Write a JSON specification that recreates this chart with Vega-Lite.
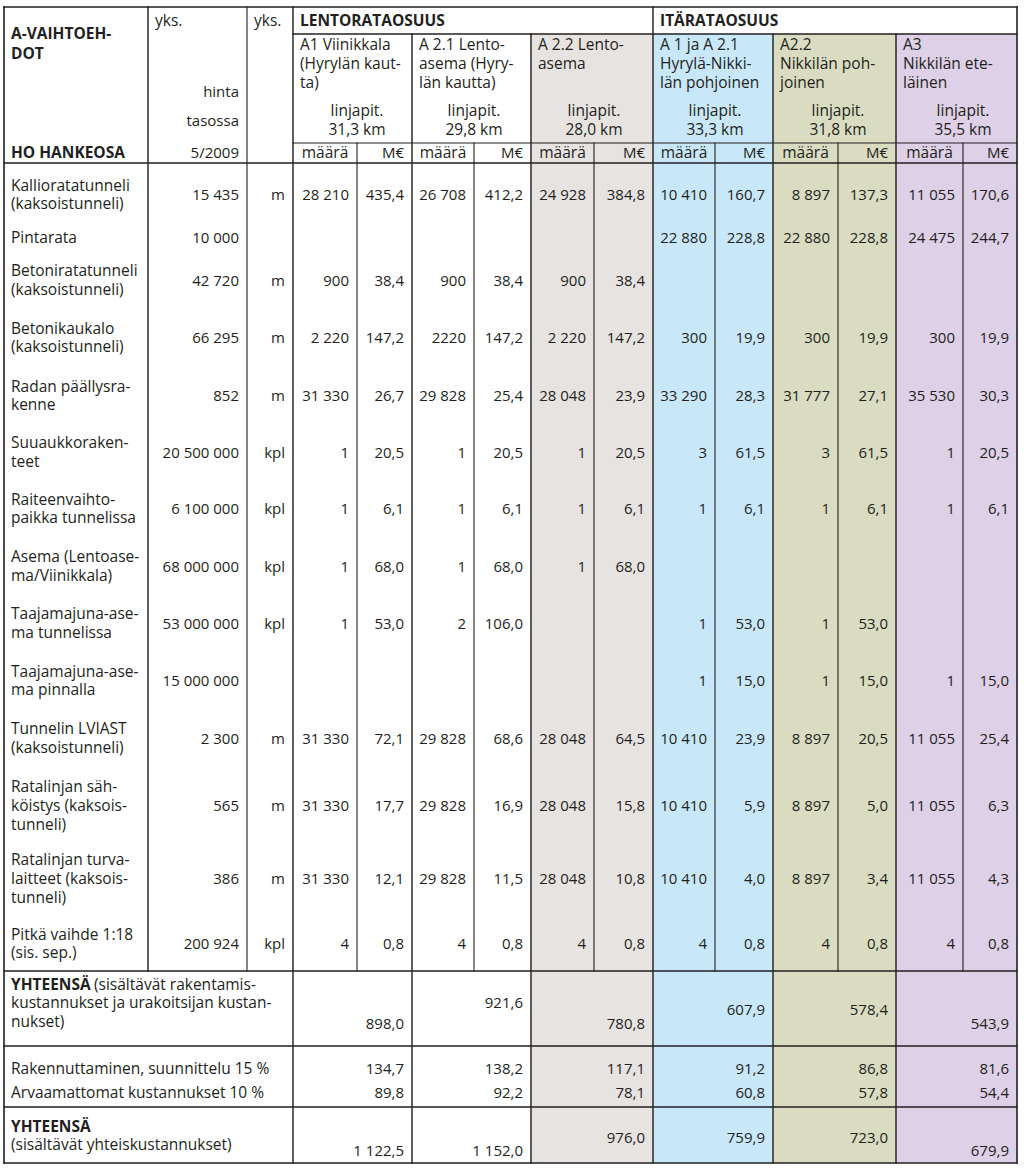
{
  "$schema": "https://vega.github.io/schema/vega-lite/v6.json",
  "width": 1024,
  "height": 1168,
  "padding": 0,
  "autosize": "none",
  "background": "#ffffff",
  "config": {"view": {"stroke": null}, "text": {"font": "Open Sans", "fontSize": 15.5, "color": "#231f20", "lineBreak": "\n"}},
  "datasets": {
    "fills": [
      {"alt": "A 2.2 Lentoasema", "c0": 7, "c1": 9, "r0": 2, "r1": 37},
      {"alt": "A 1 ja A 2.1", "c0": 9, "c1": 11, "r0": 2, "r1": 37},
      {"alt": "A2.2 Nikkilän pohjoinen", "c0": 11, "c1": 13, "r0": 2, "r1": 37},
      {"alt": "A3 Nikkilän eteläinen", "c0": 13, "c1": 15, "r0": 2, "r1": 37}
    ],
    "lines": [
      {"x0": 0, "x1": 15, "y0": 0, "y1": 0, "w": "border"},
      {"x0": 3, "x1": 15, "y0": 2, "y1": 2, "w": "mid"},
      {"x0": 3, "x1": 15, "y0": 7, "y1": 7, "w": "thin"},
      {"x0": 0, "x1": 15, "y0": 9, "y1": 9, "w": "thick"},
      {"x0": 0, "x1": 15, "y0": 24, "y1": 24, "w": "thick"},
      {"x0": 0, "x1": 15, "y0": 29, "y1": 29, "w": "thick"},
      {"x0": 0, "x1": 15, "y0": 32, "y1": 32, "w": "thick"},
      {"x0": 0, "x1": 15, "y0": 37, "y1": 37, "w": "border"},
      {"x0": 0, "x1": 0, "y0": 0, "y1": 37, "w": "border"},
      {"x0": 15, "x1": 15, "y0": 0, "y1": 37, "w": "border"},
      {"x0": 1, "x1": 1, "y0": 0, "y1": 24, "w": "thick"},
      {"x0": 2, "x1": 2, "y0": 0, "y1": 24, "w": "thin"},
      {"x0": 3, "x1": 3, "y0": 0, "y1": 37, "w": "thick"},
      {"x0": 9, "x1": 9, "y0": 0, "y1": 37, "w": "thick"},
      {"x0": 5, "x1": 5, "y0": 2, "y1": 37, "w": "thick"},
      {"x0": 7, "x1": 7, "y0": 2, "y1": 37, "w": "thick"},
      {"x0": 11, "x1": 11, "y0": 2, "y1": 37, "w": "thick"},
      {"x0": 13, "x1": 13, "y0": 2, "y1": 37, "w": "thick"},
      {"x0": 4, "x1": 4, "y0": 7, "y1": 24, "w": "thin"},
      {"x0": 6, "x1": 6, "y0": 7, "y1": 24, "w": "thin"},
      {"x0": 8, "x1": 8, "y0": 7, "y1": 24, "w": "thin"},
      {"x0": 10, "x1": 10, "y0": 7, "y1": 24, "w": "thin"},
      {"x0": 12, "x1": 12, "y0": 7, "y1": 24, "w": "thin"},
      {"x0": 14, "x1": 14, "y0": 7, "y1": 24, "w": "thin"}
    ],
    "cells": [
      {"r": 2, "c0": 0, "c1": 1, "k": "head", "t": "A-VAIHTOEH-\nDOT"},
      {"r": 8, "c0": 0, "c1": 1, "k": "head", "t": "HO HANKEOSA"},
      {"r": 1, "c0": 1, "c1": 2, "k": "note", "t": "yks."},
      {"r": 1, "c0": 2, "c1": 3, "k": "note", "t": "yks."},
      {"r": 4, "c0": 1, "c1": 2, "k": "v", "t": "hinta"},
      {"r": 6, "c0": 1, "c1": 2, "k": "v", "t": "tasossa"},
      {"r": 8, "c0": 1, "c1": 2, "k": "v", "t": "5/2009"},
      {"r": 1, "c0": 3, "c1": 9, "k": "head", "t": "LENTORATAOSUUS"},
      {"r": 1, "c0": 9, "c1": 15, "k": "head", "t": "ITÄRATAOSUUS"},
      {"r": 3, "c0": 3, "c1": 5, "k": "note", "t": "A1 Viinikkala\n(Hyrylän kaut-\nta)"},
      {"r": 3, "c0": 5, "c1": 7, "k": "note", "t": "A 2.1 Lento-\nasema (Hyry-\nlän kautta)"},
      {"r": 3, "c0": 7, "c1": 9, "k": "note", "t": "A 2.2 Lento-\nasema"},
      {"r": 3, "c0": 9, "c1": 11, "k": "note", "t": "A 1 ja A 2.1\nHyrylä-Nikki-\nlän pohjoinen"},
      {"r": 3, "c0": 11, "c1": 13, "k": "note", "t": "A2.2\nNikkilän poh-\njoinen"},
      {"r": 3, "c0": 13, "c1": 15, "k": "note", "t": "A3\nNikkilän ete-\nläinen"},
      {"r": 5, "c0": 3, "c1": 5, "k": "mid", "t": "linjapit.\n31,3 km"},
      {"r": 5, "c0": 5, "c1": 7, "k": "mid", "t": "linjapit.\n29,8 km"},
      {"r": 5, "c0": 7, "c1": 9, "k": "mid", "t": "linjapit.\n28,0 km"},
      {"r": 5, "c0": 9, "c1": 11, "k": "mid", "t": "linjapit.\n33,3 km"},
      {"r": 5, "c0": 11, "c1": 13, "k": "mid", "t": "linjapit.\n31,8 km"},
      {"r": 5, "c0": 13, "c1": 15, "k": "mid", "t": "linjapit.\n35,5 km"},
      {"r": 8, "c0": 3, "c1": 4, "k": "mid", "t": "määrä"},
      {"r": 8, "c0": 4, "c1": 5, "k": "v", "t": "M€"},
      {"r": 8, "c0": 5, "c1": 6, "k": "mid", "t": "määrä"},
      {"r": 8, "c0": 6, "c1": 7, "k": "v", "t": "M€"},
      {"r": 8, "c0": 7, "c1": 8, "k": "mid", "t": "määrä"},
      {"r": 8, "c0": 8, "c1": 9, "k": "v", "t": "M€"},
      {"r": 8, "c0": 9, "c1": 10, "k": "mid", "t": "määrä"},
      {"r": 8, "c0": 10, "c1": 11, "k": "v", "t": "M€"},
      {"r": 8, "c0": 11, "c1": 12, "k": "mid", "t": "määrä"},
      {"r": 8, "c0": 12, "c1": 13, "k": "v", "t": "M€"},
      {"r": 8, "c0": 13, "c1": 14, "k": "mid", "t": "määrä"},
      {"r": 8, "c0": 14, "c1": 15, "k": "v", "t": "M€"},

      {"r": 10, "c0": 0, "c1": 1, "k": "item", "t": "Kallioratatunneli\n(kaksoistunneli)"},
      {"r": 10, "c0": 1, "c1": 2, "k": "v", "t": "15 435"},
      {"r": 10, "c0": 2, "c1": 3, "k": "v", "t": "m"},
      {"r": 10, "c0": 3, "c1": 4, "k": "v", "t": "28 210"},
      {"r": 10, "c0": 4, "c1": 5, "k": "v", "t": "435,4"},
      {"r": 10, "c0": 5, "c1": 6, "k": "v", "t": "26 708"},
      {"r": 10, "c0": 6, "c1": 7, "k": "v", "t": "412,2"},
      {"r": 10, "c0": 7, "c1": 8, "k": "v", "t": "24 928"},
      {"r": 10, "c0": 8, "c1": 9, "k": "v", "t": "384,8"},
      {"r": 10, "c0": 9, "c1": 10, "k": "v", "t": "10 410"},
      {"r": 10, "c0": 10, "c1": 11, "k": "v", "t": "160,7"},
      {"r": 10, "c0": 11, "c1": 12, "k": "v", "t": "8 897"},
      {"r": 10, "c0": 12, "c1": 13, "k": "v", "t": "137,3"},
      {"r": 10, "c0": 13, "c1": 14, "k": "v", "t": "11 055"},
      {"r": 10, "c0": 14, "c1": 15, "k": "v", "t": "170,6"},

      {"r": 11, "c0": 0, "c1": 1, "k": "item", "t": "Pintarata"},
      {"r": 11, "c0": 1, "c1": 2, "k": "v", "t": "10 000"},
      {"r": 11, "c0": 9, "c1": 10, "k": "v", "t": "22 880"},
      {"r": 11, "c0": 10, "c1": 11, "k": "v", "t": "228,8"},
      {"r": 11, "c0": 11, "c1": 12, "k": "v", "t": "22 880"},
      {"r": 11, "c0": 12, "c1": 13, "k": "v", "t": "228,8"},
      {"r": 11, "c0": 13, "c1": 14, "k": "v", "t": "24 475"},
      {"r": 11, "c0": 14, "c1": 15, "k": "v", "t": "244,7"},

      {"r": 12, "c0": 0, "c1": 1, "k": "item", "t": "Betoniratatunneli\n(kaksoistunneli)"},
      {"r": 12, "c0": 1, "c1": 2, "k": "v", "t": "42 720"},
      {"r": 12, "c0": 2, "c1": 3, "k": "v", "t": "m"},
      {"r": 12, "c0": 3, "c1": 4, "k": "v", "t": "900"},
      {"r": 12, "c0": 4, "c1": 5, "k": "v", "t": "38,4"},
      {"r": 12, "c0": 5, "c1": 6, "k": "v", "t": "900"},
      {"r": 12, "c0": 6, "c1": 7, "k": "v", "t": "38,4"},
      {"r": 12, "c0": 7, "c1": 8, "k": "v", "t": "900"},
      {"r": 12, "c0": 8, "c1": 9, "k": "v", "t": "38,4"},

      {"r": 13, "c0": 0, "c1": 1, "k": "item", "t": "Betonikaukalo\n(kaksoistunneli)"},
      {"r": 13, "c0": 1, "c1": 2, "k": "v", "t": "66 295"},
      {"r": 13, "c0": 2, "c1": 3, "k": "v", "t": "m"},
      {"r": 13, "c0": 3, "c1": 4, "k": "v", "t": "2 220"},
      {"r": 13, "c0": 4, "c1": 5, "k": "v", "t": "147,2"},
      {"r": 13, "c0": 5, "c1": 6, "k": "v", "t": "2220"},
      {"r": 13, "c0": 6, "c1": 7, "k": "v", "t": "147,2"},
      {"r": 13, "c0": 7, "c1": 8, "k": "v", "t": "2 220"},
      {"r": 13, "c0": 8, "c1": 9, "k": "v", "t": "147,2"},
      {"r": 13, "c0": 9, "c1": 10, "k": "v", "t": "300"},
      {"r": 13, "c0": 10, "c1": 11, "k": "v", "t": "19,9"},
      {"r": 13, "c0": 11, "c1": 12, "k": "v", "t": "300"},
      {"r": 13, "c0": 12, "c1": 13, "k": "v", "t": "19,9"},
      {"r": 13, "c0": 13, "c1": 14, "k": "v", "t": "300"},
      {"r": 13, "c0": 14, "c1": 15, "k": "v", "t": "19,9"},

      {"r": 14, "c0": 0, "c1": 1, "k": "item", "t": "Radan päällysra-\nkenne"},
      {"r": 14, "c0": 1, "c1": 2, "k": "v", "t": "852"},
      {"r": 14, "c0": 2, "c1": 3, "k": "v", "t": "m"},
      {"r": 14, "c0": 3, "c1": 4, "k": "v", "t": "31 330"},
      {"r": 14, "c0": 4, "c1": 5, "k": "v", "t": "26,7"},
      {"r": 14, "c0": 5, "c1": 6, "k": "v", "t": "29 828"},
      {"r": 14, "c0": 6, "c1": 7, "k": "v", "t": "25,4"},
      {"r": 14, "c0": 7, "c1": 8, "k": "v", "t": "28 048"},
      {"r": 14, "c0": 8, "c1": 9, "k": "v", "t": "23,9"},
      {"r": 14, "c0": 9, "c1": 10, "k": "v", "t": "33 290"},
      {"r": 14, "c0": 10, "c1": 11, "k": "v", "t": "28,3"},
      {"r": 14, "c0": 11, "c1": 12, "k": "v", "t": "31 777"},
      {"r": 14, "c0": 12, "c1": 13, "k": "v", "t": "27,1"},
      {"r": 14, "c0": 13, "c1": 14, "k": "v", "t": "35 530"},
      {"r": 14, "c0": 14, "c1": 15, "k": "v", "t": "30,3"},

      {"r": 15, "c0": 0, "c1": 1, "k": "item", "t": "Suuaukkoraken-\nteet"},
      {"r": 15, "c0": 1, "c1": 2, "k": "v", "t": "20 500 000"},
      {"r": 15, "c0": 2, "c1": 3, "k": "v", "t": "kpl"},
      {"r": 15, "c0": 3, "c1": 4, "k": "v", "t": "1"},
      {"r": 15, "c0": 4, "c1": 5, "k": "v", "t": "20,5"},
      {"r": 15, "c0": 5, "c1": 6, "k": "v", "t": "1"},
      {"r": 15, "c0": 6, "c1": 7, "k": "v", "t": "20,5"},
      {"r": 15, "c0": 7, "c1": 8, "k": "v", "t": "1"},
      {"r": 15, "c0": 8, "c1": 9, "k": "v", "t": "20,5"},
      {"r": 15, "c0": 9, "c1": 10, "k": "v", "t": "3"},
      {"r": 15, "c0": 10, "c1": 11, "k": "v", "t": "61,5"},
      {"r": 15, "c0": 11, "c1": 12, "k": "v", "t": "3"},
      {"r": 15, "c0": 12, "c1": 13, "k": "v", "t": "61,5"},
      {"r": 15, "c0": 13, "c1": 14, "k": "v", "t": "1"},
      {"r": 15, "c0": 14, "c1": 15, "k": "v", "t": "20,5"},

      {"r": 16, "c0": 0, "c1": 1, "k": "item", "t": "Raiteenvaihto-\npaikka tunnelissa"},
      {"r": 16, "c0": 1, "c1": 2, "k": "v", "t": "6 100 000"},
      {"r": 16, "c0": 2, "c1": 3, "k": "v", "t": "kpl"},
      {"r": 16, "c0": 3, "c1": 4, "k": "v", "t": "1"},
      {"r": 16, "c0": 4, "c1": 5, "k": "v", "t": "6,1"},
      {"r": 16, "c0": 5, "c1": 6, "k": "v", "t": "1"},
      {"r": 16, "c0": 6, "c1": 7, "k": "v", "t": "6,1"},
      {"r": 16, "c0": 7, "c1": 8, "k": "v", "t": "1"},
      {"r": 16, "c0": 8, "c1": 9, "k": "v", "t": "6,1"},
      {"r": 16, "c0": 9, "c1": 10, "k": "v", "t": "1"},
      {"r": 16, "c0": 10, "c1": 11, "k": "v", "t": "6,1"},
      {"r": 16, "c0": 11, "c1": 12, "k": "v", "t": "1"},
      {"r": 16, "c0": 12, "c1": 13, "k": "v", "t": "6,1"},
      {"r": 16, "c0": 13, "c1": 14, "k": "v", "t": "1"},
      {"r": 16, "c0": 14, "c1": 15, "k": "v", "t": "6,1"},

      {"r": 17, "c0": 0, "c1": 1, "k": "item", "t": "Asema (Lentoase-\nma/Viinikkala)"},
      {"r": 17, "c0": 1, "c1": 2, "k": "v", "t": "68 000 000"},
      {"r": 17, "c0": 2, "c1": 3, "k": "v", "t": "kpl"},
      {"r": 17, "c0": 3, "c1": 4, "k": "v", "t": "1"},
      {"r": 17, "c0": 4, "c1": 5, "k": "v", "t": "68,0"},
      {"r": 17, "c0": 5, "c1": 6, "k": "v", "t": "1"},
      {"r": 17, "c0": 6, "c1": 7, "k": "v", "t": "68,0"},
      {"r": 17, "c0": 7, "c1": 8, "k": "v", "t": "1"},
      {"r": 17, "c0": 8, "c1": 9, "k": "v", "t": "68,0"},

      {"r": 18, "c0": 0, "c1": 1, "k": "item", "t": "Taajamajuna-ase-\nma tunnelissa"},
      {"r": 18, "c0": 1, "c1": 2, "k": "v", "t": "53 000 000"},
      {"r": 18, "c0": 2, "c1": 3, "k": "v", "t": "kpl"},
      {"r": 18, "c0": 3, "c1": 4, "k": "v", "t": "1"},
      {"r": 18, "c0": 4, "c1": 5, "k": "v", "t": "53,0"},
      {"r": 18, "c0": 5, "c1": 6, "k": "v", "t": "2"},
      {"r": 18, "c0": 6, "c1": 7, "k": "v", "t": "106,0"},
      {"r": 18, "c0": 9, "c1": 10, "k": "v", "t": "1"},
      {"r": 18, "c0": 10, "c1": 11, "k": "v", "t": "53,0"},
      {"r": 18, "c0": 11, "c1": 12, "k": "v", "t": "1"},
      {"r": 18, "c0": 12, "c1": 13, "k": "v", "t": "53,0"},

      {"r": 19, "c0": 0, "c1": 1, "k": "item", "t": "Taajamajuna-ase-\nma pinnalla"},
      {"r": 19, "c0": 1, "c1": 2, "k": "v", "t": "15 000 000"},
      {"r": 19, "c0": 9, "c1": 10, "k": "v", "t": "1"},
      {"r": 19, "c0": 10, "c1": 11, "k": "v", "t": "15,0"},
      {"r": 19, "c0": 11, "c1": 12, "k": "v", "t": "1"},
      {"r": 19, "c0": 12, "c1": 13, "k": "v", "t": "15,0"},
      {"r": 19, "c0": 13, "c1": 14, "k": "v", "t": "1"},
      {"r": 19, "c0": 14, "c1": 15, "k": "v", "t": "15,0"},

      {"r": 20, "c0": 0, "c1": 1, "k": "item", "t": "Tunnelin LVIAST\n(kaksoistunneli)"},
      {"r": 20, "c0": 1, "c1": 2, "k": "v", "t": "2 300"},
      {"r": 20, "c0": 2, "c1": 3, "k": "v", "t": "m"},
      {"r": 20, "c0": 3, "c1": 4, "k": "v", "t": "31 330"},
      {"r": 20, "c0": 4, "c1": 5, "k": "v", "t": "72,1"},
      {"r": 20, "c0": 5, "c1": 6, "k": "v", "t": "29 828"},
      {"r": 20, "c0": 6, "c1": 7, "k": "v", "t": "68,6"},
      {"r": 20, "c0": 7, "c1": 8, "k": "v", "t": "28 048"},
      {"r": 20, "c0": 8, "c1": 9, "k": "v", "t": "64,5"},
      {"r": 20, "c0": 9, "c1": 10, "k": "v", "t": "10 410"},
      {"r": 20, "c0": 10, "c1": 11, "k": "v", "t": "23,9"},
      {"r": 20, "c0": 11, "c1": 12, "k": "v", "t": "8 897"},
      {"r": 20, "c0": 12, "c1": 13, "k": "v", "t": "20,5"},
      {"r": 20, "c0": 13, "c1": 14, "k": "v", "t": "11 055"},
      {"r": 20, "c0": 14, "c1": 15, "k": "v", "t": "25,4"},

      {"r": 21, "c0": 0, "c1": 1, "k": "item", "t": "Ratalinjan säh-\nköistys (kaksois-\ntunneli)"},
      {"r": 21, "c0": 1, "c1": 2, "k": "v", "t": "565"},
      {"r": 21, "c0": 2, "c1": 3, "k": "v", "t": "m"},
      {"r": 21, "c0": 3, "c1": 4, "k": "v", "t": "31 330"},
      {"r": 21, "c0": 4, "c1": 5, "k": "v", "t": "17,7"},
      {"r": 21, "c0": 5, "c1": 6, "k": "v", "t": "29 828"},
      {"r": 21, "c0": 6, "c1": 7, "k": "v", "t": "16,9"},
      {"r": 21, "c0": 7, "c1": 8, "k": "v", "t": "28 048"},
      {"r": 21, "c0": 8, "c1": 9, "k": "v", "t": "15,8"},
      {"r": 21, "c0": 9, "c1": 10, "k": "v", "t": "10 410"},
      {"r": 21, "c0": 10, "c1": 11, "k": "v", "t": "5,9"},
      {"r": 21, "c0": 11, "c1": 12, "k": "v", "t": "8 897"},
      {"r": 21, "c0": 12, "c1": 13, "k": "v", "t": "5,0"},
      {"r": 21, "c0": 13, "c1": 14, "k": "v", "t": "11 055"},
      {"r": 21, "c0": 14, "c1": 15, "k": "v", "t": "6,3"},

      {"r": 22, "c0": 0, "c1": 1, "k": "item", "t": "Ratalinjan turva-\nlaitteet (kaksois-\ntunneli)"},
      {"r": 22, "c0": 1, "c1": 2, "k": "v", "t": "386"},
      {"r": 22, "c0": 2, "c1": 3, "k": "v", "t": "m"},
      {"r": 22, "c0": 3, "c1": 4, "k": "v", "t": "31 330"},
      {"r": 22, "c0": 4, "c1": 5, "k": "v", "t": "12,1"},
      {"r": 22, "c0": 5, "c1": 6, "k": "v", "t": "29 828"},
      {"r": 22, "c0": 6, "c1": 7, "k": "v", "t": "11,5"},
      {"r": 22, "c0": 7, "c1": 8, "k": "v", "t": "28 048"},
      {"r": 22, "c0": 8, "c1": 9, "k": "v", "t": "10,8"},
      {"r": 22, "c0": 9, "c1": 10, "k": "v", "t": "10 410"},
      {"r": 22, "c0": 10, "c1": 11, "k": "v", "t": "4,0"},
      {"r": 22, "c0": 11, "c1": 12, "k": "v", "t": "8 897"},
      {"r": 22, "c0": 12, "c1": 13, "k": "v", "t": "3,4"},
      {"r": 22, "c0": 13, "c1": 14, "k": "v", "t": "11 055"},
      {"r": 22, "c0": 14, "c1": 15, "k": "v", "t": "4,3"},

      {"r": 23, "c0": 0, "c1": 1, "k": "item", "t": "Pitkä vaihde 1:18\n(sis. sep.)"},
      {"r": 23, "c0": 1, "c1": 2, "k": "v", "t": "200 924"},
      {"r": 23, "c0": 2, "c1": 3, "k": "v", "t": "kpl"},
      {"r": 23, "c0": 3, "c1": 4, "k": "v", "t": "4"},
      {"r": 23, "c0": 4, "c1": 5, "k": "v", "t": "0,8"},
      {"r": 23, "c0": 5, "c1": 6, "k": "v", "t": "4"},
      {"r": 23, "c0": 6, "c1": 7, "k": "v", "t": "0,8"},
      {"r": 23, "c0": 7, "c1": 8, "k": "v", "t": "4"},
      {"r": 23, "c0": 8, "c1": 9, "k": "v", "t": "0,8"},
      {"r": 23, "c0": 9, "c1": 10, "k": "v", "t": "4"},
      {"r": 23, "c0": 10, "c1": 11, "k": "v", "t": "0,8"},
      {"r": 23, "c0": 11, "c1": 12, "k": "v", "t": "4"},
      {"r": 23, "c0": 12, "c1": 13, "k": "v", "t": "0,8"},
      {"r": 23, "c0": 13, "c1": 14, "k": "v", "t": "4"},
      {"r": 23, "c0": 14, "c1": 15, "k": "v", "t": "0,8"},

      {"r": 25, "c0": 0, "c1": 3, "k": "head", "t": "YHTEENSÄ"},
      {"r": 25, "c0": 0, "c1": 3, "k": "cont", "t": "(sisältävät rakentamis-"},
      {"r": 26, "c0": 0, "c1": 3, "k": "note", "t": "kustannukset ja urakoitsijan kustan-\nnukset)"},
      {"r": 28, "c0": 3, "c1": 5, "k": "v", "t": "898,0"},
      {"r": 26, "c0": 5, "c1": 7, "k": "v", "t": "921,6"},
      {"r": 28, "c0": 7, "c1": 9, "k": "v", "t": "780,8"},
      {"r": 27, "c0": 9, "c1": 11, "k": "v", "t": "607,9"},
      {"r": 27, "c0": 11, "c1": 13, "k": "v", "t": "578,4"},
      {"r": 28, "c0": 13, "c1": 15, "k": "v", "t": "543,9"},

      {"r": 30, "c0": 0, "c1": 3, "k": "note", "t": "Rakennuttaminen, suunnittelu 15 %"},
      {"r": 30, "c0": 3, "c1": 5, "k": "v", "t": "134,7"},
      {"r": 30, "c0": 5, "c1": 7, "k": "v", "t": "138,2"},
      {"r": 30, "c0": 7, "c1": 9, "k": "v", "t": "117,1"},
      {"r": 30, "c0": 9, "c1": 11, "k": "v", "t": "91,2"},
      {"r": 30, "c0": 11, "c1": 13, "k": "v", "t": "86,8"},
      {"r": 30, "c0": 13, "c1": 15, "k": "v", "t": "81,6"},
      {"r": 31, "c0": 0, "c1": 3, "k": "note", "t": "Arvaamattomat kustannukset 10 %"},
      {"r": 31, "c0": 3, "c1": 5, "k": "v", "t": "89,8"},
      {"r": 31, "c0": 5, "c1": 7, "k": "v", "t": "92,2"},
      {"r": 31, "c0": 7, "c1": 9, "k": "v", "t": "78,1"},
      {"r": 31, "c0": 9, "c1": 11, "k": "v", "t": "60,8"},
      {"r": 31, "c0": 11, "c1": 13, "k": "v", "t": "57,8"},
      {"r": 31, "c0": 13, "c1": 15, "k": "v", "t": "54,4"},

      {"r": 33, "c0": 0, "c1": 3, "k": "head", "t": "YHTEENSÄ"},
      {"r": 35, "c0": 0, "c1": 3, "k": "note", "t": "(sisältävät  yhteiskustannukset)"},
      {"r": 36, "c0": 3, "c1": 5, "k": "v", "t": "1 122,5"},
      {"r": 36, "c0": 5, "c1": 7, "k": "v", "t": "1 152,0"},
      {"r": 34, "c0": 7, "c1": 9, "k": "v", "t": "976,0"},
      {"r": 34, "c0": 9, "c1": 11, "k": "v", "t": "759,9"},
      {"r": 34, "c0": 11, "c1": 13, "k": "v", "t": "723,0"},
      {"r": 36, "c0": 13, "c1": 15, "k": "v", "t": "679,9"}
    ]
  },
  "layer": [
    {
      "data": {"name": "fills"},
      "mark": {"type": "rect"},
      "encoding": {
        "x": {"field": "c0", "type": "quantitative", "axis": null, "scale": {"domain": [0,1,2,3,4,5,6,7,8,9,10,11,12,13,14,15], "range": [4,148,247,293,357,412,474,531,594,653,715,773,838,896,963,1017], "nice": false, "zero": false}},
        "x2": {"field": "c1"},
        "y": {"field": "r0", "type": "quantitative", "axis": null, "scale": {"domain": [0,1,2,3,4,5,6,7,8,9,10,11,12,13,14,15,16,17,18,19,20,21,22,23,24,25,26,27,28,29,30,31,32,33,34,35,36,37], "range": [7,21,34,45,92,111,121,143,153,163,195,238,280.5,338,396,452.5,509,566.5,623.5,681,738.5,806,879,944,971,985,1003,1010,1024,1046,1069,1093,1107,1127,1137.5,1145,1151,1163], "nice": false, "zero": false}},
        "y2": {"field": "r1"},
        "color": {"field": "alt", "type": "nominal", "legend": null, "scale": {"domain": ["A 2.2 Lentoasema", "A 1 ja A 2.1", "A2.2 Nikkilän pohjoinen", "A3 Nikkilän eteläinen"], "range": ["#e7e3e1", "#c8e8f9", "#d9dcc1", "#ddd0e7"]}}
      }
    },
    {
      "data": {"name": "cells"},
      "transform": [{"filter": "datum.k === 'item'"}, {"calculate": "length(split(datum.t, '\\n'))", "as": "nl"}, {"filter": "datum.nl === 1"}],
      "mark": {"type": "text", "align": "left", "baseline": "middle", "dx": 7, "lineHeight": 18.7},
      "encoding": {
        "x": {"field": "c0", "type": "quantitative", "axis": null, "scale": {"domain": [0,1,2,3,4,5,6,7,8,9,10,11,12,13,14,15], "range": [4,148,247,293,357,412,474,531,594,653,715,773,838,896,963,1017], "nice": false, "zero": false}},
        "y": {"field": "r", "type": "quantitative", "axis": null, "scale": {"domain": [0,1,2,3,4,5,6,7,8,9,10,11,12,13,14,15,16,17,18,19,20,21,22,23,24,25,26,27,28,29,30,31,32,33,34,35,36,37], "range": [7,21,34,45,92,111,121,143,153,163,195,238,280.5,338,396,452.5,509,566.5,623.5,681,738.5,806,879,944,971,985,1003,1010,1024,1046,1069,1093,1107,1127,1137.5,1145,1151,1163], "nice": false, "zero": false}},
        "text": {"field": "t", "type": "nominal"}
      }
    },
    {
      "data": {"name": "cells"},
      "transform": [{"filter": "datum.k === 'item'"}, {"calculate": "length(split(datum.t, '\\n'))", "as": "nl"}, {"filter": "datum.nl === 2"}],
      "mark": {"type": "text", "align": "left", "baseline": "middle", "dx": 7, "dy": -9.35, "lineHeight": 18.7},
      "encoding": {
        "x": {"field": "c0", "type": "quantitative", "axis": null, "scale": {"domain": [0,1,2,3,4,5,6,7,8,9,10,11,12,13,14,15], "range": [4,148,247,293,357,412,474,531,594,653,715,773,838,896,963,1017], "nice": false, "zero": false}},
        "y": {"field": "r", "type": "quantitative", "axis": null, "scale": {"domain": [0,1,2,3,4,5,6,7,8,9,10,11,12,13,14,15,16,17,18,19,20,21,22,23,24,25,26,27,28,29,30,31,32,33,34,35,36,37], "range": [7,21,34,45,92,111,121,143,153,163,195,238,280.5,338,396,452.5,509,566.5,623.5,681,738.5,806,879,944,971,985,1003,1010,1024,1046,1069,1093,1107,1127,1137.5,1145,1151,1163], "nice": false, "zero": false}},
        "text": {"field": "t", "type": "nominal"}
      }
    },
    {
      "data": {"name": "cells"},
      "transform": [{"filter": "datum.k === 'item'"}, {"calculate": "length(split(datum.t, '\\n'))", "as": "nl"}, {"filter": "datum.nl === 3"}],
      "mark": {"type": "text", "align": "left", "baseline": "middle", "dx": 7, "dy": -18.7, "lineHeight": 18.7},
      "encoding": {
        "x": {"field": "c0", "type": "quantitative", "axis": null, "scale": {"domain": [0,1,2,3,4,5,6,7,8,9,10,11,12,13,14,15], "range": [4,148,247,293,357,412,474,531,594,653,715,773,838,896,963,1017], "nice": false, "zero": false}},
        "y": {"field": "r", "type": "quantitative", "axis": null, "scale": {"domain": [0,1,2,3,4,5,6,7,8,9,10,11,12,13,14,15,16,17,18,19,20,21,22,23,24,25,26,27,28,29,30,31,32,33,34,35,36,37], "range": [7,21,34,45,92,111,121,143,153,163,195,238,280.5,338,396,452.5,509,566.5,623.5,681,738.5,806,879,944,971,985,1003,1010,1024,1046,1069,1093,1107,1127,1137.5,1145,1151,1163], "nice": false, "zero": false}},
        "text": {"field": "t", "type": "nominal"}
      }
    },
    {
      "data": {"name": "cells"},
      "transform": [{"filter": "datum.k === 'v'"}],
      "mark": {"type": "text", "align": "right", "baseline": "middle", "dx": -8, "fontSize": 15},
      "encoding": {
        "x": {"field": "c1", "type": "quantitative", "axis": null, "scale": {"domain": [0,1,2,3,4,5,6,7,8,9,10,11,12,13,14,15], "range": [4,148,247,293,357,412,474,531,594,653,715,773,838,896,963,1017], "nice": false, "zero": false}},
        "y": {"field": "r", "type": "quantitative", "axis": null, "scale": {"domain": [0,1,2,3,4,5,6,7,8,9,10,11,12,13,14,15,16,17,18,19,20,21,22,23,24,25,26,27,28,29,30,31,32,33,34,35,36,37], "range": [7,21,34,45,92,111,121,143,153,163,195,238,280.5,338,396,452.5,509,566.5,623.5,681,738.5,806,879,944,971,985,1003,1010,1024,1046,1069,1093,1107,1127,1137.5,1145,1151,1163], "nice": false, "zero": false}},
        "text": {"field": "t", "type": "nominal"}
      }
    },
    {
      "data": {"name": "cells"},
      "transform": [{"filter": "datum.k === 'head'"}],
      "mark": {"type": "text", "align": "left", "baseline": "middle", "dx": 7, "fontWeight": "bold", "lineHeight": 19.5},
      "encoding": {
        "x": {"field": "c0", "type": "quantitative", "axis": null, "scale": {"domain": [0,1,2,3,4,5,6,7,8,9,10,11,12,13,14,15], "range": [4,148,247,293,357,412,474,531,594,653,715,773,838,896,963,1017], "nice": false, "zero": false}},
        "y": {"field": "r", "type": "quantitative", "axis": null, "scale": {"domain": [0,1,2,3,4,5,6,7,8,9,10,11,12,13,14,15,16,17,18,19,20,21,22,23,24,25,26,27,28,29,30,31,32,33,34,35,36,37], "range": [7,21,34,45,92,111,121,143,153,163,195,238,280.5,338,396,452.5,509,566.5,623.5,681,738.5,806,879,944,971,985,1003,1010,1024,1046,1069,1093,1107,1127,1137.5,1145,1151,1163], "nice": false, "zero": false}},
        "text": {"field": "t", "type": "nominal"}
      }
    },
    {
      "data": {"name": "cells"},
      "transform": [{"filter": "datum.k === 'note'"}],
      "mark": {"type": "text", "align": "left", "baseline": "middle", "dx": 7, "lineHeight": 19},
      "encoding": {
        "x": {"field": "c0", "type": "quantitative", "axis": null, "scale": {"domain": [0,1,2,3,4,5,6,7,8,9,10,11,12,13,14,15], "range": [4,148,247,293,357,412,474,531,594,653,715,773,838,896,963,1017], "nice": false, "zero": false}},
        "y": {"field": "r", "type": "quantitative", "axis": null, "scale": {"domain": [0,1,2,3,4,5,6,7,8,9,10,11,12,13,14,15,16,17,18,19,20,21,22,23,24,25,26,27,28,29,30,31,32,33,34,35,36,37], "range": [7,21,34,45,92,111,121,143,153,163,195,238,280.5,338,396,452.5,509,566.5,623.5,681,738.5,806,879,944,971,985,1003,1010,1024,1046,1069,1093,1107,1127,1137.5,1145,1151,1163], "nice": false, "zero": false}},
        "text": {"field": "t", "type": "nominal"}
      }
    },
    {
      "data": {"name": "cells"},
      "transform": [{"filter": "datum.k === 'cont'"}],
      "mark": {"type": "text", "align": "left", "baseline": "middle", "dx": 90},
      "encoding": {
        "x": {"field": "c0", "type": "quantitative", "axis": null, "scale": {"domain": [0,1,2,3,4,5,6,7,8,9,10,11,12,13,14,15], "range": [4,148,247,293,357,412,474,531,594,653,715,773,838,896,963,1017], "nice": false, "zero": false}},
        "y": {"field": "r", "type": "quantitative", "axis": null, "scale": {"domain": [0,1,2,3,4,5,6,7,8,9,10,11,12,13,14,15,16,17,18,19,20,21,22,23,24,25,26,27,28,29,30,31,32,33,34,35,36,37], "range": [7,21,34,45,92,111,121,143,153,163,195,238,280.5,338,396,452.5,509,566.5,623.5,681,738.5,806,879,944,971,985,1003,1010,1024,1046,1069,1093,1107,1127,1137.5,1145,1151,1163], "nice": false, "zero": false}},
        "text": {"field": "t", "type": "nominal"}
      }
    },
    {
      "data": {"name": "cells"},
      "transform": [{"filter": "datum.k === 'mid'"}, {"calculate": "(datum.c0 + datum.c1) / 2", "as": "cm"}],
      "mark": {"type": "text", "align": "center", "baseline": "middle", "lineHeight": 18.5},
      "encoding": {
        "x": {"field": "cm", "type": "quantitative", "axis": null, "scale": {"domain": [0,1,2,3,4,5,6,7,8,9,10,11,12,13,14,15], "range": [4,148,247,293,357,412,474,531,594,653,715,773,838,896,963,1017], "nice": false, "zero": false}},
        "y": {"field": "r", "type": "quantitative", "axis": null, "scale": {"domain": [0,1,2,3,4,5,6,7,8,9,10,11,12,13,14,15,16,17,18,19,20,21,22,23,24,25,26,27,28,29,30,31,32,33,34,35,36,37], "range": [7,21,34,45,92,111,121,143,153,163,195,238,280.5,338,396,452.5,509,566.5,623.5,681,738.5,806,879,944,971,985,1003,1010,1024,1046,1069,1093,1107,1127,1137.5,1145,1151,1163], "nice": false, "zero": false}},
        "text": {"field": "t", "type": "nominal"}
      }
    },
    {
      "data": {"name": "lines"},
      "mark": {"type": "rule", "color": "#231f20", "strokeCap": "square"},
      "encoding": {
        "x": {"field": "x0", "type": "quantitative", "axis": null, "scale": {"domain": [0,1,2,3,4,5,6,7,8,9,10,11,12,13,14,15], "range": [4,148,247,293,357,412,474,531,594,653,715,773,838,896,963,1017], "nice": false, "zero": false}},
        "x2": {"field": "x1"},
        "y": {"field": "y0", "type": "quantitative", "axis": null, "scale": {"domain": [0,1,2,3,4,5,6,7,8,9,10,11,12,13,14,15,16,17,18,19,20,21,22,23,24,25,26,27,28,29,30,31,32,33,34,35,36,37], "range": [7,21,34,45,92,111,121,143,153,163,195,238,280.5,338,396,452.5,509,566.5,623.5,681,738.5,806,879,944,971,985,1003,1010,1024,1046,1069,1093,1107,1127,1137.5,1145,1151,1163], "nice": false, "zero": false}},
        "y2": {"field": "y1"},
        "strokeWidth": {"field": "w", "type": "ordinal", "legend": null, "scale": {"domain": ["thin", "mid", "thick", "border"], "range": [1.1, 1.6, 2.1, 2.8]}}
      }
    }
  ]
}
